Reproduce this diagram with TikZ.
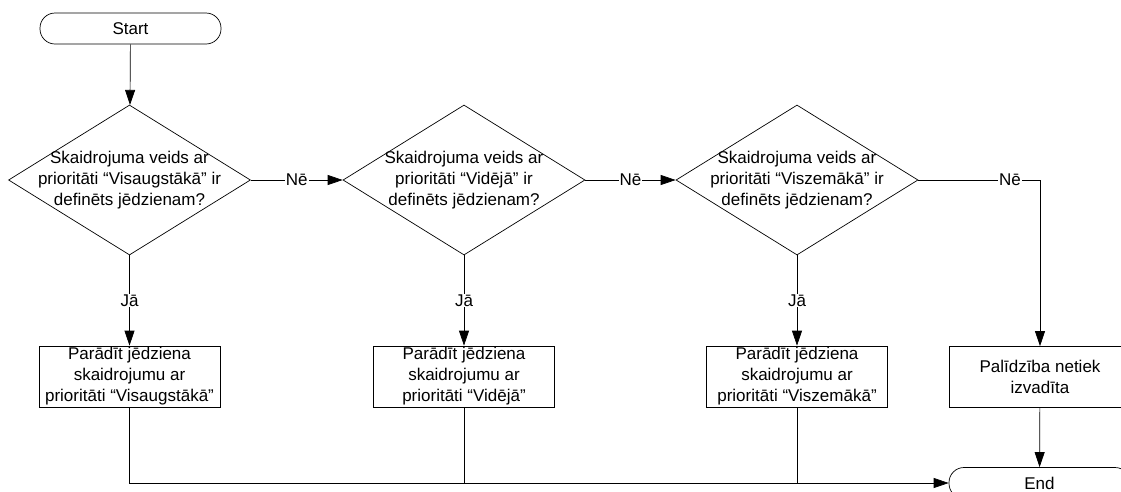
\documentclass[tikz,border=0pt]{standalone}
\usepackage{fontspec}
\setmainfont{Liberation Sans}
\usetikzlibrary{shapes.geometric,arrows.meta}
\begin{document}
\begin{tikzpicture}[x=1pt,y=-1pt, font=\fontsize{17}{21}\selectfont,
  dia/.style={draw, diamond, minimum width=242pt, minimum height=150pt, inner sep=0pt, line width=0.7pt},
  proc/.style={draw, rectangle, minimum width=181pt, minimum height=61pt, inner sep=0pt, align=center, line width=0.7pt},
  term/.style={draw, rectangle, rounded corners=15pt, minimum width=181pt, minimum height=31pt, inner sep=0pt, line width=0.7pt},
  conn/.style={line width=0.7pt, -{Triangle[length=15pt,width=10pt]}},
  plainline/.style={line width=0.7pt},
  lbl/.style={fill=white, inner sep=1pt},
  txt/.style={align=center, inner sep=0pt}]
\useasboundingbox (0,0) rectangle (1121,491);
\clip (0,0) rectangle (1121,491);
\fill[white] (0,0) rectangle (1121,491);

\node[term] (s) at (130.5,28.5) {Start};

\node[dia] (d1) at (129.5,180) {};
\node[dia] (d2) at (464,180) {};
\node[dia] (d3) at (797,180) {};
\node[txt] (t1) at (d1) {Skaidrojuma veids ar\\prioritāti “Visaugstākā” ir\\definēts jēdzienam?};
\node[txt] (t2) at (d2) {Skaidrojuma veids ar\\prioritāti “Vidējā” ir\\definēts jēdzienam?};
\node[txt] (t3) at (d3) {Skaidrojuma veids ar\\prioritāti “Viszemākā” ir\\definēts jēdzienam?};

\node[proc] (b1) at (129.5,376.5) {Parādīt jēdziena\\skaidrojumu ar\\prioritāti “Visaugstākā”};
\node[proc] (b2) at (464,376.5) {Parādīt jēdziena\\skaidrojumu ar\\prioritāti “Vidējā”};
\node[proc] (b3) at (797,376.5) {Parādīt jēdziena\\skaidrojumu ar\\prioritāti “Viszemākā”};
\node[proc] (b4) at (1040,377) {Palīdzība netiek\\izvadīta};

\node[term] (e) at (1039.5,483) {End};

\draw[conn] (s) -- (d1);
\draw[conn] (d1.east) -- node[lbl] {Nē} (d2.west);
\draw[conn] (d2.east) -- node[lbl] {Nē} (d3.west);
\draw[conn] (d3.east) -| node[lbl, pos=0.377] {Nē} (b4.north);

\draw[conn] (d1.south) -- node[lbl] {Jā} (b1.north);
\draw[conn] (d2.south) -- node[lbl] {Jā} (b2.north);
\draw[conn] (d3.south) -- node[lbl] {Jā} (b3.north);

\draw[conn] (b4) -- (e);
\draw[conn] (b1.south) |- (e.west);
\draw[plainline] (b2.south) -- (b2.south |- e.west);
\draw[plainline] (b3.south) -- (b3.south |- e.west);
\end{tikzpicture}
\end{document}
